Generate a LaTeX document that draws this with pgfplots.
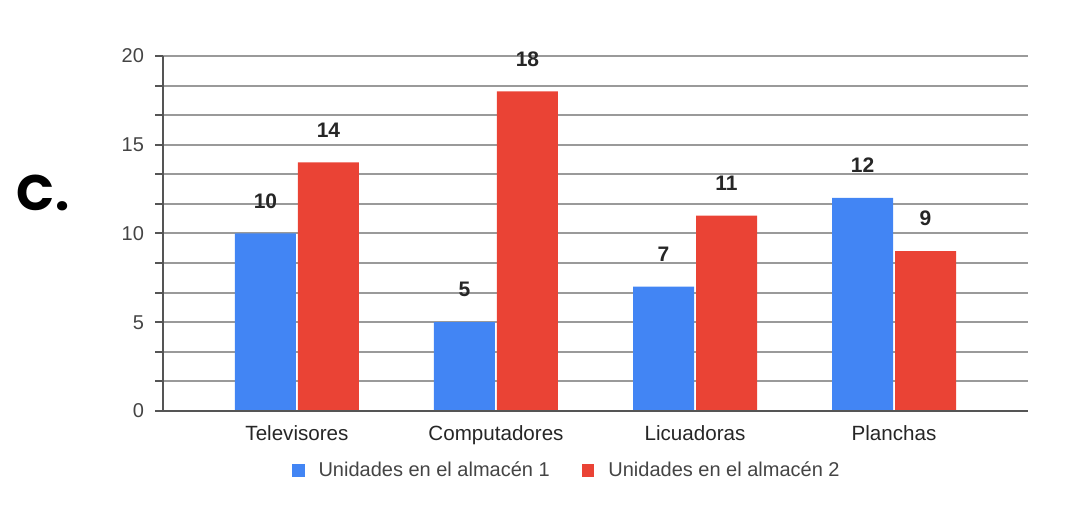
\documentclass[border=0pt]{standalone}
\usepackage{pgfplots}
\pgfplotsset{compat=1.18}
\usepackage{fontspec}
\setmainfont{Liberation Sans}
\newfontfamily\pop{Poppins}
\definecolor{gblue}{HTML}{4285F4}
\definecolor{gred}{HTML}{EA4335}
\definecolor{gridc}{HTML}{9A9A9A}
\definecolor{axc}{HTML}{555555}
\definecolor{tickc}{HTML}{444444}
\begin{document}
\begin{tikzpicture}
\useasboundingbox (0pt,0pt) rectangle (543.5pt,261pt);
\node[font=\pop\bfseries\fontsize{25}{25}\selectfont, anchor=center] at (21.5pt,164.5pt) {C.};
\begin{axis}[
  at={(81.5pt,55.5pt)}, anchor=south west,
  scale only axis, width=432.5pt, height=177.5pt,
  xmin=-0.673, xmax=3.673, ymin=0, ymax=20,
  ybar=1pt, bar width=30.5pt,
  xtick={0,1,2,3},
  xticklabels={Televisores,Computadores,Licuadoras,Planchas},
  ytick={0,5,10,15,20},
  minor y tick num=2,
  ytick pos=left,
  ymajorgrids, yminorgrids,
  major grid style={gridc, line width=1pt},
  minor grid style={gridc, line width=1pt},
  axis line style={draw=none},
  tick align=outside,
  major tick length=4pt, minor tick length=4pt,
  ytick style={axc, line width=1pt},
  minor y tick style={axc, line width=1pt},
  xtick style={draw=none},
  yticklabel style={font=\fontsize{10}{11}\selectfont, text=tickc, xshift=-2pt},
  xticklabel style={font=\fontsize{10.3}{11}\selectfont, text=black!85, yshift=0pt},
  /pgf/number format/assume math mode=true,
  clip=false,
  nodes near coords,
  every node near coord/.append style={font=\bfseries\fontsize{10.5}{11}\selectfont, text=black!85, yshift=9pt},
  legend style={at={(0.468,-0.12)}, anchor=north, draw=none, fill=none,
     font=\fontsize{10}{11}\selectfont, text=tickc, legend columns=2,
     /tikz/every odd column/.append style={column sep=5pt},
     /tikz/every even column/.append style={column sep=14pt}},
  legend image code/.code={\fill[#1] (0pt,-3.3pt) rectangle (6.3pt,3.3pt);},
]
\addplot[fill=gblue, draw=none] coordinates {(0,10) (1,5) (2,7) (3,12)};
\addplot[fill=gred, draw=none] coordinates {(0,14) (1,18) (2,11) (3,9)};
\legend{Unidades en el almacén 1, Unidades en el almacén 2}
\draw[axc, line width=1pt] (axis cs:-0.673,0) -- (axis cs:3.673,0);
\draw[axc, line width=1pt] (axis cs:-0.673,0) -- (axis cs:-0.673,20);
\end{axis}
\end{tikzpicture}
\end{document}
